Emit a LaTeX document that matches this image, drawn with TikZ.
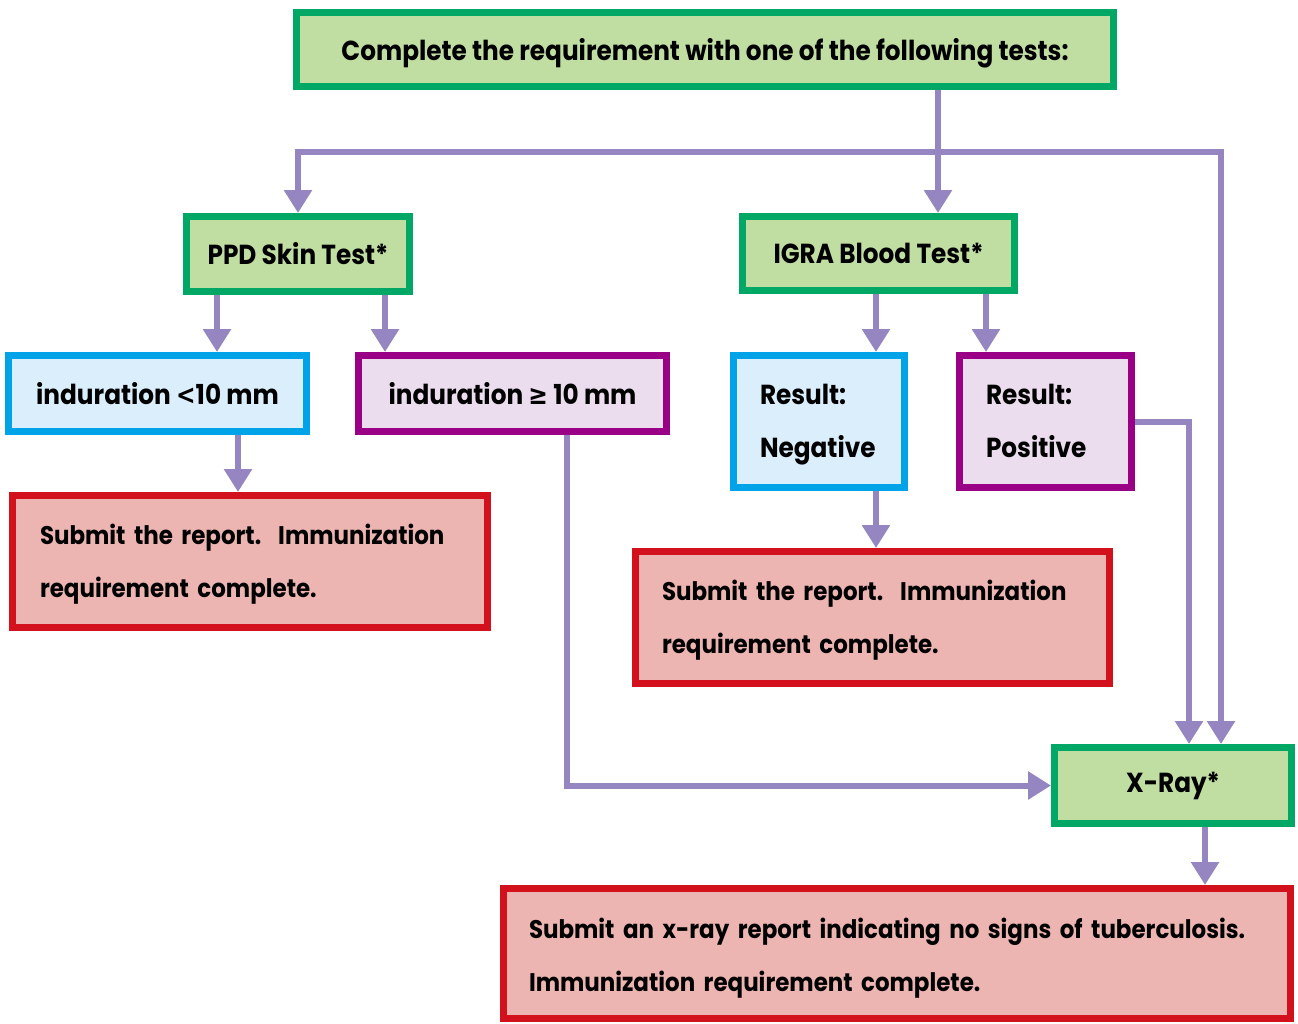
\documentclass[tikz,border=0pt]{standalone}
\usepackage{fontspec}
\setmainfont{Poppins}[FakeStretch=0.9]
\newfontfamily\symfont{DejaVu Sans}[FakeStretch=0.85]
\usetikzlibrary{arrows.meta}
\definecolor{gborder}{HTML}{00A765}
\definecolor{gfill}{HTML}{C1DEA2}
\definecolor{bborder}{HTML}{00A3E8}
\definecolor{bfill}{HTML}{DAEEFB}
\definecolor{pborder}{HTML}{990085}
\definecolor{pfill}{HTML}{EBDDEE}
\definecolor{rborder}{HTML}{D3111D}
\definecolor{rfill}{HTML}{EDB5B2}
\definecolor{arrc}{HTML}{9585C1}
\begin{document}
\begin{tikzpicture}[x=1pt,y=-1pt,
  box/.style={draw, line width=7pt, inner sep=0pt, font=\fontsize{27.5}{53}\selectfont\bfseries},
  gbox/.style={box, draw=gborder, fill=gfill},
  bbox/.style={box, draw=bborder, fill=bfill},
  pbox/.style={box, draw=pborder, fill=pfill},
  rbox/.style={box, draw=rborder, fill=rfill, font=\fontsize{25.5}{53}\selectfont\bfseries},
  ltext/.style={align=left, inner xsep=#1},
  arr/.style={draw=arrc, line width=6pt, -{Triangle[width=27pt,length=23pt]}}]
\useasboundingbox (0,0) rectangle (1298,1023);

\node[gbox, minimum width=817pt, minimum height=74pt, text height=24pt, text depth=2pt] (top) at (705,49.5) {Complete the requirement with one of the following tests:};
\node[gbox, minimum width=223pt, minimum height=75pt] (ppd) at (298,254) {PPD Skin Test*};
\node[gbox, minimum width=272pt, minimum height=74pt] (igra) at (878.5,253.5) {IGRA Blood Test*};
\node[bbox, minimum width=298pt, minimum height=76pt] (lt) at (157.5,393.5) {induration {\symfont\bfseries<}10 mm};
\node[pbox, minimum width=308pt, minimum height=76pt] (ge) at (512.5,393.5) {induration {\symfont\bfseries ≥} 10 mm};
\node[rbox, ltext=27.5pt, text width=420pt, minimum width=475pt, minimum height=132pt] (r1) at (250,561.5) {\mbox{\rule{0pt}{25pt}Submit the report.\ \ Immunization}\\\mbox{requirement complete.\vphantom{g}}};
\node[bbox, ltext=26.5pt, text width=118pt, minimum width=171pt, minimum height=132pt] (neg) at (819,421.5) {\rule{0pt}{27pt}Result:\\Negative};
\node[pbox, ltext=26.5pt, text width=119pt, minimum width=172pt, minimum height=132pt] (pos) at (1045.5,421.5) {\rule{0pt}{27pt}Result:\\Positive\vphantom{g}};
\node[rbox, ltext=26.5pt, text width=421pt, minimum width=474pt, minimum height=132pt] (r2) at (872.5,617.5) {\mbox{\rule{0pt}{25pt}Submit the report.\ \ Immunization}\\\mbox{requirement complete.\vphantom{g}}};
\node[gbox, minimum width=237pt, minimum height=76pt] (xray) at (1173,785.5) {X-Ray*};
\node[rbox, ltext=25.5pt, text width=736pt, minimum width=787pt, minimum height=130pt] (r3) at (897,953.5) {\mbox{\rule{0pt}{29pt}Submit an x-ray report indicating no signs of tuberculosis.}\\\mbox{Immunization requirement complete.\vphantom{g}}};

\coordinate (j) at (938,152);
\coordinate (xa) at (938,0);
\coordinate (xb) at (1221,0);
\coordinate (xc) at (217,0);
\coordinate (xd) at (385,0);
\coordinate (xe) at (238,0);
\coordinate (xf) at (567,0);
\coordinate (xg) at (876,0);
\coordinate (xh) at (986,0);
\coordinate (xi) at (1189,0);
\coordinate (xk) at (1205,0);

\draw[arr] (top.south -| xa) -- (igra.north -| xa);
\draw[arr] (j) -| (ppd.north);
\draw[arr] (j) -| (xray.north -| xb);
\draw[arr] (ppd.south -| xc) -- (lt.north -| xc);
\draw[arr] (ppd.south -| xd) -- (ge.north -| xd);
\draw[arr] (lt.south -| xe) -- (r1.north -| xe);
\draw[arr] (ge.south -| xf) |- (xray.west);
\draw[arr] (igra.south -| xg) -- (neg.north -| xg);
\draw[arr] (igra.south -| xh) -- (pos.north -| xh);
\draw[arr] (neg.south -| xg) -- (r2.north -| xg);
\draw[arr] (pos.east) -| (xray.north -| xi);
\draw[arr] (xray.south -| xk) -- (r3.north -| xk);
\end{tikzpicture}
\end{document}
